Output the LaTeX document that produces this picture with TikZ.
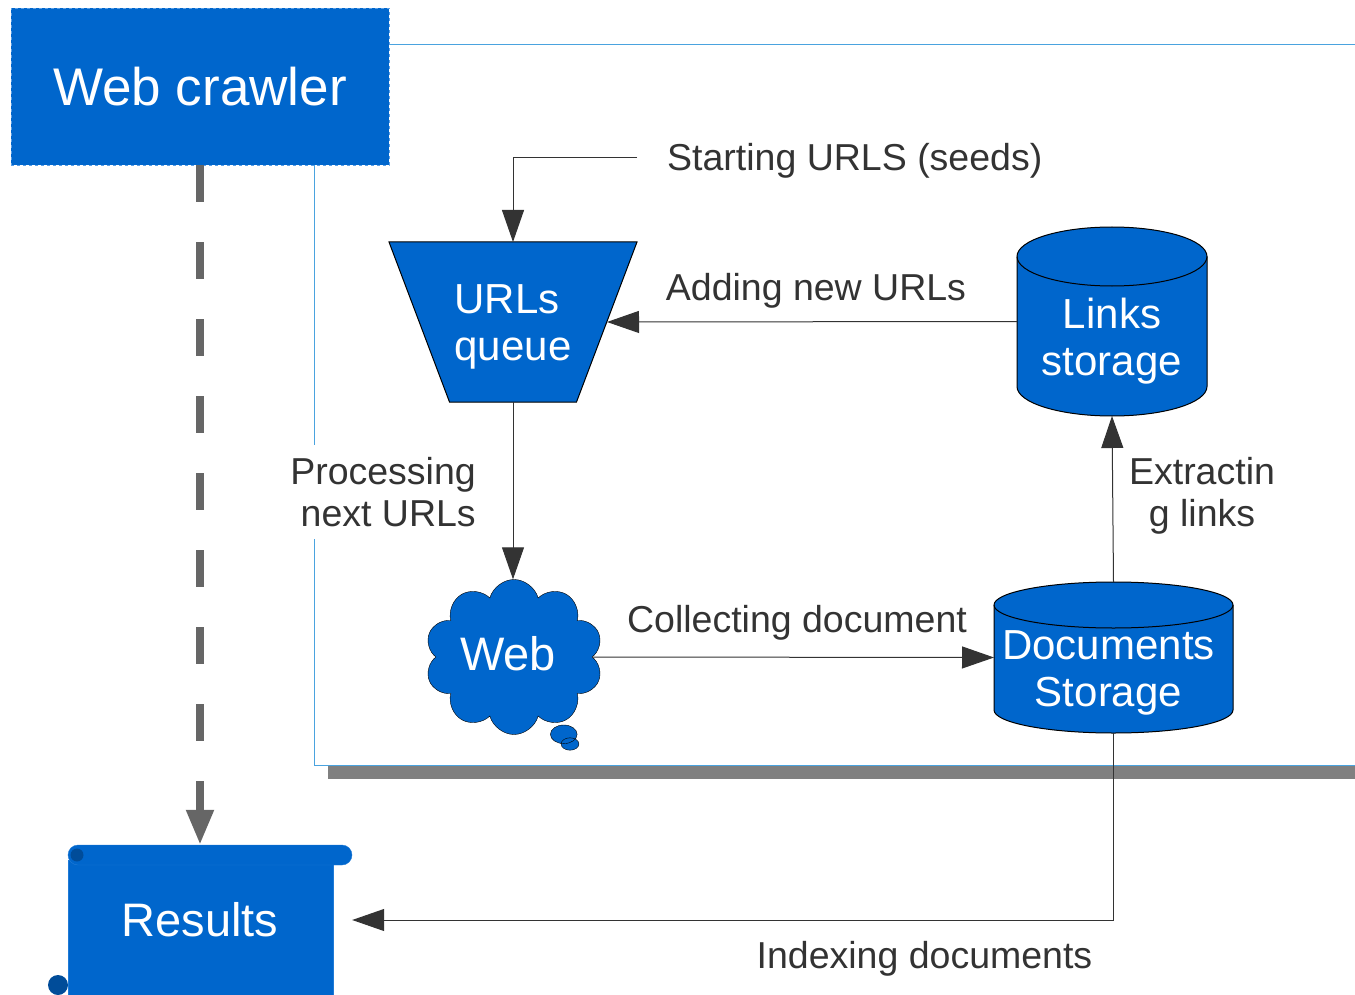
\documentclass[tikz,border=0pt]{standalone}
\usepackage{fontspec}
\setmainfont{Liberation Sans}
\usetikzlibrary{arrows.meta}
\usetikzlibrary{positioning}
\usetikzlibrary{shapes.callouts}
\definecolor{crawlblue}{HTML}{0066CC}
\definecolor{crawlline}{HTML}{5A9FE6}
\definecolor{frameblue}{HTML}{4AA3DF}
\definecolor{shadowgray}{HTML}{808080}
\definecolor{textgray}{HTML}{333333}
\definecolor{dashgray}{HTML}{666666}
\definecolor{scrolledge}{HTML}{1F7AD6}
\definecolor{curlblue}{HTML}{004C99}
\tikzset{block/.style = {fill=crawlblue, text=white, align=center, inner sep=0,
    font=\fontsize{42}{47}\selectfont}}
\tikzset{box/.style = {inner sep=0, outer sep=0}}
\tikzset{note/.style = {text=textgray, align=center, inner sep=0,
    font=\fontsize{37.5}{42}\selectfont}}
\tikzset{flow/.style = {draw=textgray, line width=1pt,
    -{Triangle[length=32pt, width=22pt]}}}
\tikzset{crawlarrow/.style = {draw=dashgray, line width=8pt, dash pattern=on 37pt off 40pt,
    -{Triangle[length=35pt, width=26pt]}}}
\tikzset{outline/.style = {fill=crawlblue, draw=black, line width=1pt}}

% drum: node name, ellipse radius, half width
\newcommand{\drum}[3]{%
  \filldraw [outline] ([yshift=-#2]#1.north west) -- ([yshift=#2]#1.south west)
    arc [start angle=180, end angle=360, x radius=#3, y radius=#2]
    -- ([yshift=-#2]#1.north east)
    arc [start angle=0, end angle=180, x radius=#3, y radius=#2] -- cycle;
  \draw [outline, fill=none] ([yshift=-#2]#1.north west)
    arc [start angle=180, end angle=360, x radius=#3, y radius=#2];
}

\begin{document}
\begin{tikzpicture}[x=1pt, y=-1pt]
    \useasboundingbox (0,0) rectangle (1355,995);

    % frame with shadow
    \fill [shadowgray] (328,765) rectangle (1360,779);
    \draw [frameblue, line width=1pt, fill=white] (314,45) rectangle (1360,765);

    \node (crawler) [block, draw=crawlline, dashed, minimum width=378pt, minimum height=157pt,
      font=\fontsize{53}{60}\selectfont] at (200,86.5) {Web crawler};

    % queue
    \node (queue) [box, minimum width=248pt, minimum height=160pt] at (513,322) {};
    \filldraw [outline] (queue.north west) -- (queue.north east)
      -- ([xshift=-60.5pt]queue.south east) -- ([xshift=60.5pt]queue.south west) -- cycle;
    \node (queuetext) [block, fill=none, align=left] at ([yshift=-5pt]queue.center) {URLs\\queue};
    \coordinate (queuein) at ([xshift=-30pt]queue.east);

    % storages
    \node (links) [box, minimum width=190pt, minimum height=189pt] at (1112,321.5) {};
    \drum{links}{29.5pt}{95pt}
    \node (linkstext) [block, fill=none] at ([yshift=-19.5pt]links.center) {Links\\storage};
    \node (docs) [box, minimum width=239pt, minimum height=151pt] at (1113.5,657.5) {};
    \drum{docs}{23pt}{119.5pt}
    \node (docstext) [block, fill=none] at ([xshift=-5pt, yshift=-15.5pt]docs.center) {Documents\\Storage};

    \node (web) [block, draw=black, cloud callout, cloud puffs=10, cloud ignores aspect,
      minimum width=178pt, minimum height=155pt, callout absolute pointer={(570,744)}] at (514,657) {};
    \node (webtext) [block, fill=none, font=\fontsize{47}{52}\selectfont]
      at ([xshift=-6pt, yshift=3pt]web.center) {Web};

    % scroll
    \filldraw [fill=crawlblue, draw=scrolledge] (68,860) rectangle (333,1005);
    \fill [curlblue] (58,985) circle (10pt);
    \filldraw [fill=crawlblue, draw=scrolledge, rounded corners=10pt] (68,845) rectangle (352,865);
    \fill [curlblue] (77,855) circle (6.5pt);
    \node (results) [minimum width=304pt, minimum height=150pt, inner sep=0, text=white,
      font=\fontsize{47}{52}\selectfont] at (200,920) {Results};

    \node (seeds) [note, anchor=west] at (667,161) {Starting URLS (seeds)};
    \coordinate (seedsend) at (637,158);
    \node (adding) [note] at (816,291) {Adding new URLs};
    \node (processing) [note, align=right, anchor=east, fill=white, inner ysep=12pt]
      at (476,492) {Processing\\next URLs};
    \node (collecting) [note] at (797,623) {Collecting document};
    \node (extracting) [note] at (1202,496) {Extractin\\g links};
    \node (indexing) [note] at (924.5,959) {Indexing documents};

    \draw [flow] (seedsend) -| (queue.north);
    \draw [flow] (links.west) -- (queuein);
    \draw [flow] (queue.south) -- (queue.south |- web.north);
    \draw [flow] (web.east) -- (docs.west);
    \draw [flow] (docs.north) -- (links.south);
    \draw [flow] (docs.south) |- (results.east);
    \draw [crawlarrow] (crawler.south) -- (results.north);
\end{tikzpicture}
\end{document}
